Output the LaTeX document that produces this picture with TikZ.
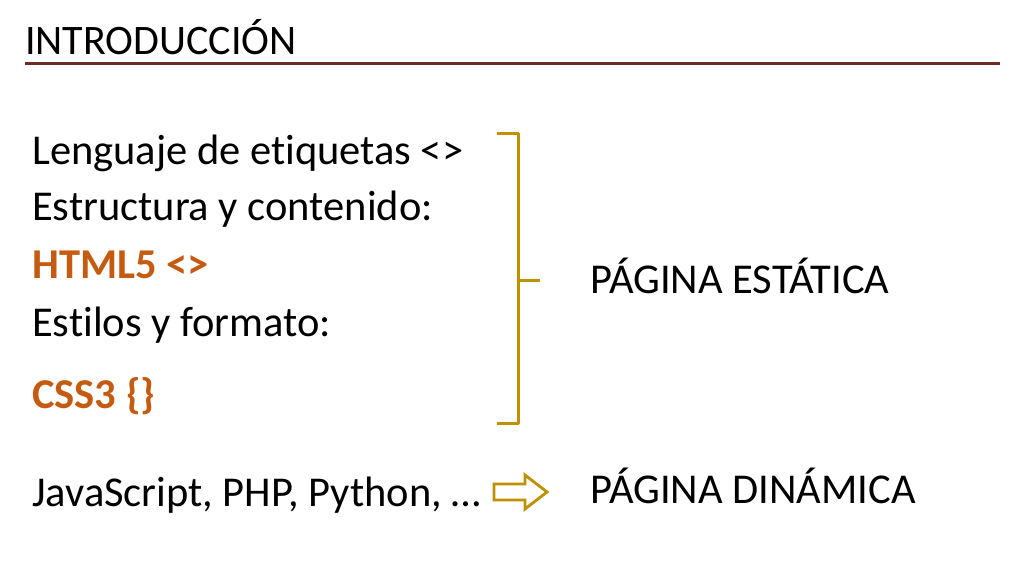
\documentclass[tikz,border=0pt]{standalone}
\usepackage{fontspec}
\setmainfont{Carlito}[Ligatures={NoCommon}]
\definecolor{brownline}{HTML}{6B2D23}
\definecolor{orng}{HTML}{C55A11}
\definecolor{gold}{HTML}{BF9000}
\begin{document}
\begin{tikzpicture}[x=1pt,y=-1pt,
  txt/.style={anchor=base west,inner sep=0pt,font=\fontsize{42.5}{44}\selectfont},
  hl/.style={txt,text=orng,font=\fontsize{42.5}{44}\selectfont\bfseries}]
\useasboundingbox[fill=white] (0,0) rectangle (1024,576);
\node[anchor=base west,inner sep=0pt,font=\fontsize{42}{44}\selectfont] (title) at (25,54) {INTRODUCCIÓN};
\draw[brownline,line width=3pt] (25,63) -- (1000,63);
\node[txt] (l1) at (32,164) {Lenguaje de etiquetas <>};
\node[txt] (l2) at (32,220) {Estructura y contenido:};
\node[hl] (l3) at (32,278) {HTML5 <>};
\node[txt] (l4) at (32,336) {Estilos y formato:};
\node[hl] (l5) at (32,408) {CSS3 \{\}};
\node[txt] (l6) at (32,506) {JavaScript, PHP, Python, …};
\draw[gold,line width=3pt,line join=round] (497,133) -- (518,133) -- (518,280) -- (540,280);
\draw[gold,line width=3pt,line join=round] (497,423) -- (518,423) -- (518,280);
\node[txt] (est) at (590,293) {PÁGINA ESTÁTICA};
\node[txt] (din) at (590,503) {PÁGINA DINÁMICA};
\draw[gold,line width=2.8pt,fill=white,line join=miter] (494,484) -- (525,484) -- (525,475) -- (547,492) -- (525,509) -- (525,500) -- (494,500) -- cycle;
\end{tikzpicture}
\end{document}
